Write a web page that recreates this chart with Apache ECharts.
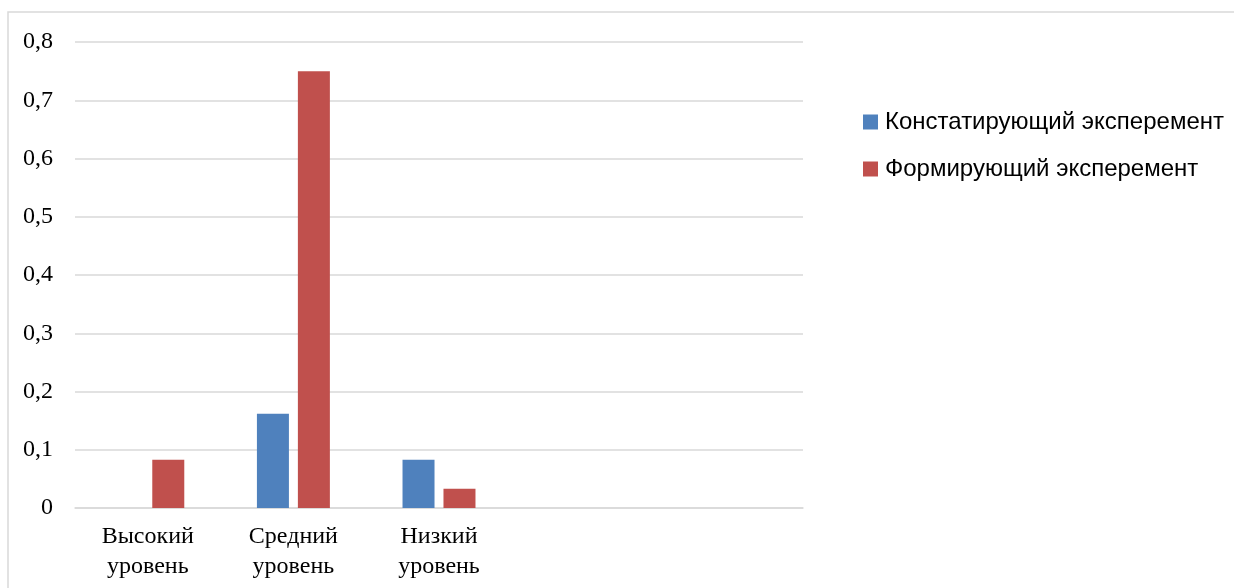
<!DOCTYPE html>
<html>
<head>
<meta charset="utf-8">
<script src="https://cdn.jsdelivr.net/npm/echarts@6/dist/echarts.min.js"></script>
<style>
html,body{margin:0;padding:0;background:#fff;}
#chart{width:1234px;height:588px;}
</style>
</head>
<body>
<div id="chart"></div>
<script>
const categories = ['Высокий\nуровень', 'Средний\nуровень', 'Низкий\nуровень', '', ''];
const seriesNames = ['Констатирующий эксперемент', 'Формирующий эксперемент'];
const constatValues = [0, 0.162, 0.083, null, null];
const formValues = [0.083, 0.75, 0.033, null, null];
const yTicks = { min: 0, max: 0.8, interval: 0.1 };

const chart = echarts.init(document.getElementById('chart'));
chart.setOption({
  animation: false,
  backgroundColor: '#fff',
  graphic: [{
    type: 'rect',
    shape: { x: 8, y: 12, width: 1400, height: 700 },
    style: { fill: 'none', stroke: '#d9d9d9', lineWidth: 1.5 },
    silent: true, z: -1
  }],
  grid: { left: 75, right: 431, top: 42, bottom: 80 },
  legend: {
    orient: 'vertical',
    left: 858,
    top: 105,
    itemWidth: 15,
    itemHeight: 15,
    itemGap: 23,
    icon: 'rect',
    textStyle: { fontFamily: 'Liberation Sans', fontSize: 24, color: '#000', padding: [0, 0, 0, 2] },
    data: seriesNames
  },
  xAxis: {
    type: 'category',
    data: categories,
    axisTick: { show: false },
    axisLine: { lineStyle: { color: '#d9d9d9', width: 1.5 } },
    axisLabel: {
      interval: 0,
      margin: 14,
      fontFamily: 'Liberation Serif',
      fontSize: 24,
      lineHeight: 30,
      color: '#000'
    }
  },
  yAxis: {
    type: 'value',
    min: yTicks.min,
    max: yTicks.max,
    interval: yTicks.interval,
    axisLine: { show: false },
    axisTick: { show: false },
    splitLine: { lineStyle: { color: '#d9d9d9', width: 1.5 } },
    axisLabel: {
      margin: 22,
      fontFamily: 'Liberation Serif',
      fontSize: 24,
      color: '#000',
      formatter: v => v === 0 ? '0' : v.toFixed(1).replace('.', ',')
    }
  },
  series: [
    {
      name: seriesNames[0], type: 'bar', data: constatValues,
      barWidth: 32, barGap: '28%',
      itemStyle: { color: '#4F81BD' }
    },
    {
      name: seriesNames[1], type: 'bar', data: formValues,
      barWidth: 32, barGap: '28%',
      itemStyle: { color: '#C0504D' }
    }
  ]
});
</script>
</body>
</html>
